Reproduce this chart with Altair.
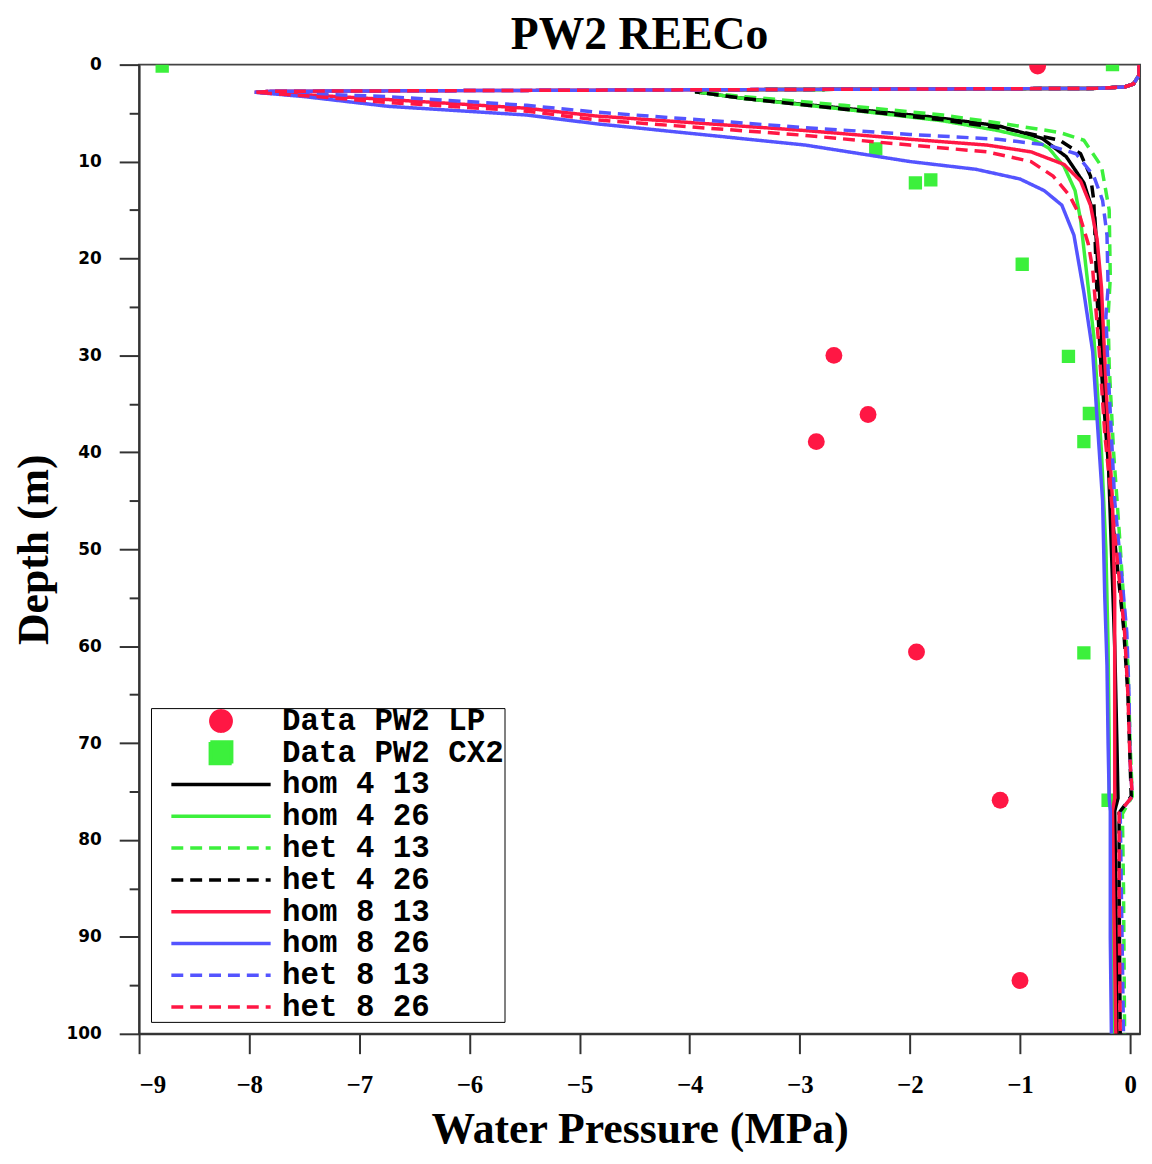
import altair as alt
import pandas as pd

TITLE = "PW2 REECo"
X_TITLE = "Water Pressure (MPa)"
Y_TITLE = "Depth (m)"

RED, GREEN, BLUE, BLACK = "#ff1744", "#3cf03c", "#5454ff", "#000000"

series_names = ["Data PW2 LP", "Data PW2 CX2", "hom 4 13", "hom 4 26", "het 4 13",
                "het 4 26", "hom 8 13", "hom 8 26", "het 8 13", "het 8 26"]
series_colors = [RED, GREEN, BLACK, GREEN, GREEN, BLACK, RED, BLUE, BLUE, RED]
SOLID = [1, 0]
DASH = [12, 7]
series_dash = [SOLID, SOLID, SOLID, SOLID, DASH, DASH, SOLID, SOLID, DASH, DASH]
# legend glyphs (unit = half the legend symbol size): circle, square, 100px line
CIRCLE_PATH = "M3.58,0A0.82,0.82,0,1,1,5.22,0A0.82,0.82,0,1,1,3.58,0Z"
SQUARE_PATH = "M3.54,-0.86H5.26V0.86H3.54Z"
LINE_PATH = "M0.4,0H8.4"
series_shapes = [CIRCLE_PATH, SQUARE_PATH] + [LINE_PATH] * 8

# measured data (MPa, depth m)
lp_mpa = [-0.84, -2.69, -2.38, -2.85, -1.94, -1.18, -1.00]
lp_depth = [0.15, 30.0, 36.1, 38.9, 60.6, 75.9, 94.5]
cx2_mpa = [-8.79, -0.16, -2.31, -1.95, -1.81, -0.98, -0.56, -0.37, -0.42, -0.42, -0.20]
cx2_depth = [0.15, 0.0, 8.7, 12.2, 11.9, 20.6, 30.1, 36.0, 38.9, 60.7, 75.9]

# simulated profiles: (depth m, MPa)
hom_4_13 = [(0, 0.08), (1.1, 0.08), (2.0, 0.03), (2.3, -0.05), (2.45, -0.3),
            (2.6, -3.85), (2.8, -3.95), (3.5, -3.5), (4.5, -2.6), (5.4, -1.8),
            (6.3, -1.2), (7.6, -0.8), (9.5, -0.58), (12.2, -0.42), (15.8, -0.32),
            (23.1, -0.28), (30, -0.25), (40, -0.2), (50, -0.17), (60, -0.14),
            (70, -0.12), (75.7, -0.11), (77, -0.14), (85, -0.13), (100, -0.12)]
hom_4_26 = [(0, 0.08), (1.1, 0.08), (2.0, 0.03), (2.3, -0.05), (2.45, -0.3),
            (2.6, -3.85), (2.8, -3.95), (3.5, -3.5), (4.6, -2.6), (5.8, -1.7),
            (6.8, -1.2), (7.6, -0.9), (8.6, -0.74), (10.5, -0.6), (13.0, -0.5),
            (16.0, -0.45), (21.0, -0.4), (28.0, -0.33), (40.0, -0.26), (50.0, -0.22),
            (60.0, -0.2), (70.0, -0.19), (75.7, -0.19), (77.0, -0.17), (85.0, -0.17),
            (100.0, -0.16)]
het_4_13 = [(0, 0.08), (1.1, 0.08), (2.0, 0.03), (2.3, -0.05), (2.45, -0.3),
            (2.6, -3.85), (2.8, -3.95), (3.3, -3.5), (4.2, -2.6), (5.2, -1.7),
            (6.2, -1.09), (7.0, -0.64), (7.8, -0.42), (10.5, -0.26), (15.0, -0.19),
            (22.0, -0.18), (26.0, -0.2), (31.0, -0.19), (40.0, -0.15), (48.0, -0.1),
            (55.0, -0.06), (62.0, -0.02), (70.0, 0.0), (75.5, 0.02), (77.3, -0.07),
            (85.0, -0.06), (100.0, -0.05)]
het_4_26 = [(0, 0.08), (1.1, 0.08), (2.0, 0.03), (2.3, -0.05), (2.45, -0.3),
            (2.6, -3.85), (2.8, -3.95), (3.5, -3.5), (4.6, -2.6), (5.7, -1.7),
            (6.7, -1.09), (7.8, -0.64), (9.2, -0.45), (11.5, -0.36), (14.0, -0.33),
            (24.0, -0.3), (30.0, -0.27), (38.0, -0.22), (48.0, -0.15), (58.0, -0.06),
            (65.0, -0.02), (72.0, 0.0), (75.5, 0.01), (77.2, -0.1), (85.0, -0.1),
            (100.0, -0.09)]
hom_8_13 = [(0, 0.08), (1.1, 0.08), (2.0, 0.03), (2.3, -0.05), (2.45, -0.3),
            (2.6, -4.0), (2.75, -7.8), (2.85, -7.95), (3.1, -7.5), (3.6, -6.74),
            (4.5, -5.48), (5.3, -4.85), (6.8, -2.95), (7.7, -2.0), (8.3, -1.3),
            (9.0, -0.9), (10.3, -0.6), (12.0, -0.45), (14.5, -0.36), (18.0, -0.3),
            (23.0, -0.26), (28.0, -0.24), (35.0, -0.21), (45.0, -0.16), (55.0, -0.14),
            (65.0, -0.14), (75.7, -0.14), (77.0, -0.16), (85.0, -0.15), (100.0, -0.13)]
hom_8_26 = [(0, 0.08), (1.1, 0.08), (2.0, 0.03), (2.3, -0.05), (2.45, -0.3),
            (2.6, -4.0), (2.75, -7.8), (2.85, -7.95), (3.3, -7.5), (4.3, -6.74),
            (5.2, -5.48), (6.1, -4.85), (8.3, -2.95), (10.0, -2.0), (10.8, -1.4),
            (11.8, -1.0), (13.0, -0.78), (14.5, -0.62), (17.6, -0.51), (23.5, -0.42),
            (29.6, -0.34), (36.5, -0.3), (45.0, -0.25), (55.0, -0.23), (62.0, -0.21),
            (70.0, -0.2), (75.7, -0.19), (77.0, -0.18), (90.0, -0.18), (100.0, -0.17)]
het_8_13 = [(0, 0.08), (1.1, 0.08), (2.0, 0.03), (2.3, -0.05), (2.45, -0.3),
            (2.6, -4.0), (2.75, -7.8), (2.85, -7.95), (3.0, -7.5), (3.3, -6.74),
            (4.2, -5.48), (4.9, -4.85), (6.5, -2.95), (7.2, -2.0), (7.7, -1.2),
            (8.3, -0.75), (9.2, -0.49), (11.5, -0.33), (14.0, -0.25), (17.6, -0.21),
            (23.0, -0.2), (26.0, -0.22), (31.4, -0.2), (45.0, -0.14), (53.5, -0.07),
            (58.6, -0.03), (65.0, -0.01), (72.0, 0.0), (75.5, 0.02), (77.1, -0.09),
            (85.0, -0.08), (100.0, -0.06)]
het_8_26 = [(0, 0.08), (1.1, 0.08), (2.0, 0.03), (2.3, -0.05), (2.45, -0.3),
            (2.6, -4.0), (2.75, -7.8), (2.85, -7.95), (3.2, -7.5), (3.9, -6.74),
            (4.8, -5.48), (5.7, -4.85), (7.3, -2.95), (8.3, -2.0), (9.0, -1.3),
            (10.0, -0.9), (11.5, -0.7), (13.5, -0.55), (15.5, -0.46), (18.5, -0.38),
            (21.1, -0.34), (29.6, -0.28), (38.1, -0.23), (48.4, -0.14), (58.6, -0.05),
            (65.0, -0.02), (72.0, 0.0), (75.5, 0.02), (77.2, -0.1), (85.0, -0.1),
            (100.0, -0.09)]

line_series = [("hom 4 13", hom_4_13), ("hom 4 26", hom_4_26), ("het 4 13", het_4_13),
               ("het 4 26", het_4_26), ("hom 8 13", hom_8_13), ("hom 8 26", hom_8_26),
               ("het 8 13", het_8_13), ("het 8 26", het_8_26)]

x_ticks = [-9 + 0.5 * k for k in range(19)]
y_ticks = [5 * k for k in range(21)]

pts_lp = pd.DataFrame({"series": "Data PW2 LP", "mpa": lp_mpa, "depth": lp_depth})
pts_cx = pd.DataFrame({"series": "Data PW2 CX2", "mpa": cx2_mpa, "depth": cx2_depth})

color_scale = alt.Scale(domain=series_names, range=series_colors)
dash_scale = alt.Scale(domain=series_names, range=series_dash)
shape_scale = alt.Scale(domain=series_names, range=series_shapes)
x_scale = alt.Scale(domain=[-9, 0.09], nice=False, zero=False)
y_scale = alt.Scale(domain=[0, 100], reverse=True, nice=False)

leg = alt.Legend(
    title=None, orient="bottom-left", offset=12,
    fillColor="white", strokeColor="black", padding=0,
    labelFont="Liberation Mono", labelFontWeight="bold", labelFontSize=31,
    labelColor="black", labelOffset=101, rowPadding=1, clipHeight=26,
    symbolSize=625, symbolStrokeWidth=3.5, symbolOpacity=1, labelLimit=400,
)

x_axis = alt.Axis(
    values=x_ticks, labelExpr="datum.value % 1 === 0 ? datum.label : ''",
    format="d", labelOverlap=False, grid=False,
    tickSize={"condition": {"test": "datum.value % 1 === 0", "value": 20}, "value": 10},
    labelFont="Liberation Serif", labelFontWeight="bold", labelFontSize=25,
    labelPadding=19, titleFont="Liberation Serif", titleFontWeight="bold",
    titleFontSize=44, titlePadding=10,
)
y_axis = alt.Axis(
    values=y_ticks, labelExpr="datum.value % 10 === 0 ? datum.label : ''",
    labelOverlap=False, grid=False,
    tickSize={"condition": {"test": "datum.value % 10 === 0", "value": 20}, "value": 10},
    labelFont="DejaVu Sans", labelFontWeight="bold", labelFontSize=17,
    labelPadding=18, titleFont="Liberation Serif", titleFontWeight="bold",
    titleFontSize=44, titlePadding=10,
)

X = alt.X("mpa:Q", scale=x_scale, axis=x_axis, title=X_TITLE)
Y = alt.Y("depth:Q", scale=y_scale, axis=y_axis, title=Y_TITLE)
C = alt.Color("series:N", scale=color_scale, legend=leg)
D = alt.StrokeDash("series:N", scale=dash_scale, legend=leg)
S = alt.Shape("series:N", scale=shape_scale, legend=leg)

pts_all = pd.concat([pts_lp, pts_cx], ignore_index=True)

layers = [
    # legend carrier: no rows survive the filter, it only defines legend symbols
    alt.Chart(pts_all).transform_filter("datum.depth < -1000")
    .mark_point(filled=True, opacity=1, clip=True)
    .encode(x=X, y=Y, color=C, shape=S),
    alt.Chart(pts_lp).mark_point(shape="circle", filled=True, size=290, opacity=1, clip=True)
    .encode(x=X, y=Y, color=C),
    alt.Chart(pts_cx).mark_point(shape="square", filled=True, size=180, opacity=1, clip=True)
    .encode(x=X, y=Y, color=C),
]
for name, pts in line_series:
    df = pd.DataFrame({"series": name, "depth": [p[0] for p in pts],
                       "mpa": [p[1] for p in pts], "i": list(range(len(pts)))})
    layers.append(
        alt.Chart(df).mark_line(strokeWidth=3.5, clip=True)
        .encode(x=X, y=Y, color=C, strokeDash=D, order=alt.Order("i:Q"))
    )

chart = alt.layer(*layers).properties(
    width=1008, height=976,
    title=alt.TitleParams(TITLE, font="Liberation Serif", fontSize=46, fontWeight="bold",
                          anchor="middle", offset=-3, color="black"),
    autosize=alt.AutoSizeParams(type="none"),
    padding={"left": 132, "top": 53, "right": 4, "bottom": 115},
).configure_view(stroke="#444", strokeWidth=2).configure_axis(
    domainColor="#333", domainWidth=2, tickColor="#333", tickWidth=2,
    labelColor="black", titleColor="black",
)

chart.save("out.html", embed_options={"renderer": "svg", "actions": False})
